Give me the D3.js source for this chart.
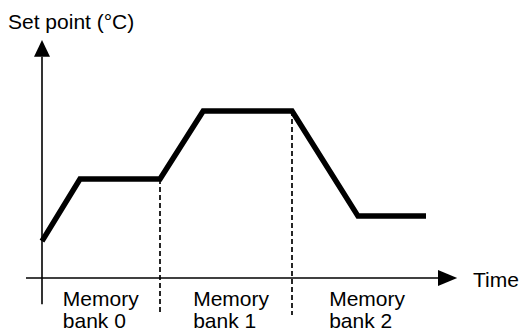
<!DOCTYPE html>
<html><head><meta charset="utf-8">
<script src="https://cdn.jsdelivr.net/npm/d3@7"></script>
<style>body{margin:0;background:#fff}svg{display:block}text{font-family:"Liberation Sans",Arial,sans-serif;fill:#000}</style>
</head><body><svg id="c" width="520" height="333"></svg>
<script>
// Set point profile (time units, set point units)
const profileTime = [0, 0.95, 2.95, 4.03, 6.25, 7.9, 9.6];
const profileTemp = [1.55, 4.16, 4.16, 7.02, 7.02, 2.6, 2.6];
const bankBoundaries = [2.95, 6.25];
const bankLabels = ["Memory bank 0", "Memory bank 1", "Memory bank 2"];
const bankLabelTime = [0.52, 3.78, 7.18];
const yAxisTitle = "Set point (°C)";
const xAxisTitle = "Time";

const svg = d3.select("#c");
const x = d3.scaleLinear().domain([0, 10]).range([42, 442]);
const y = d3.scaleLinear().domain([0, 10]).range([278, 40]);

// axes
svg.append("line").attr("x1", x(-0.4)).attr("x2", x(9.9)).attr("y1", y(0)).attr("y2", y(0))
  .attr("stroke", "#000").attr("stroke-width", 1.6);
svg.append("path").attr("d", `M${x(10.38)},${y(0)} L${x(9.9)},${y(0)-8} L${x(9.9)},${y(0)+8}Z`).attr("fill", "#000");
svg.append("line").attr("x1", x(0)).attr("x2", x(0)).attr("y1", y(-1.1)).attr("y2", y(9.3))
  .attr("stroke", "#000").attr("stroke-width", 1.6);
svg.append("path").attr("d", `M${x(0)},${y(10)} L${x(0)-8},${y(9.3)} L${x(0)+8},${y(9.3)}Z`).attr("fill", "#000");

// dashed bank boundaries
bankBoundaries.forEach((t) => {
  const idx = profileTime.indexOf(t);
  svg.append("line").attr("x1", x(t)).attr("x2", x(t))
    .attr("y1", y(profileTemp[idx])).attr("y2", y(-1.55))
    .attr("stroke", "#000").attr("stroke-width", 1.7).attr("stroke-dasharray", "5,3");
});

// profile line
const line = d3.line().x((d, i) => x(profileTime[i])).y(d => y(d));
svg.append("path").datum(profileTemp).attr("d", line)
  .attr("fill", "none").attr("stroke", "#000").attr("stroke-width", 5.5).attr("stroke-linejoin", "miter");

// labels
bankLabels.forEach((lab, i) => {
  const parts = lab.split(" ");
  const t = svg.append("text").attr("x", x(bankLabelTime[i])).attr("y", 306).attr("font-size", 21);
  t.append("tspan").attr("x", x(bankLabelTime[i])).text(parts[0]);
  t.append("tspan").attr("x", x(bankLabelTime[i])).attr("dy", 22).text(parts.slice(1).join(" "));
});
svg.append("text").attr("x", 8).attr("y", 29).attr("font-size", 21).text(yAxisTitle);
svg.append("text").attr("x", 473).attr("y", 287).attr("font-size", 21).text(xAxisTitle);
</script></body></html>
